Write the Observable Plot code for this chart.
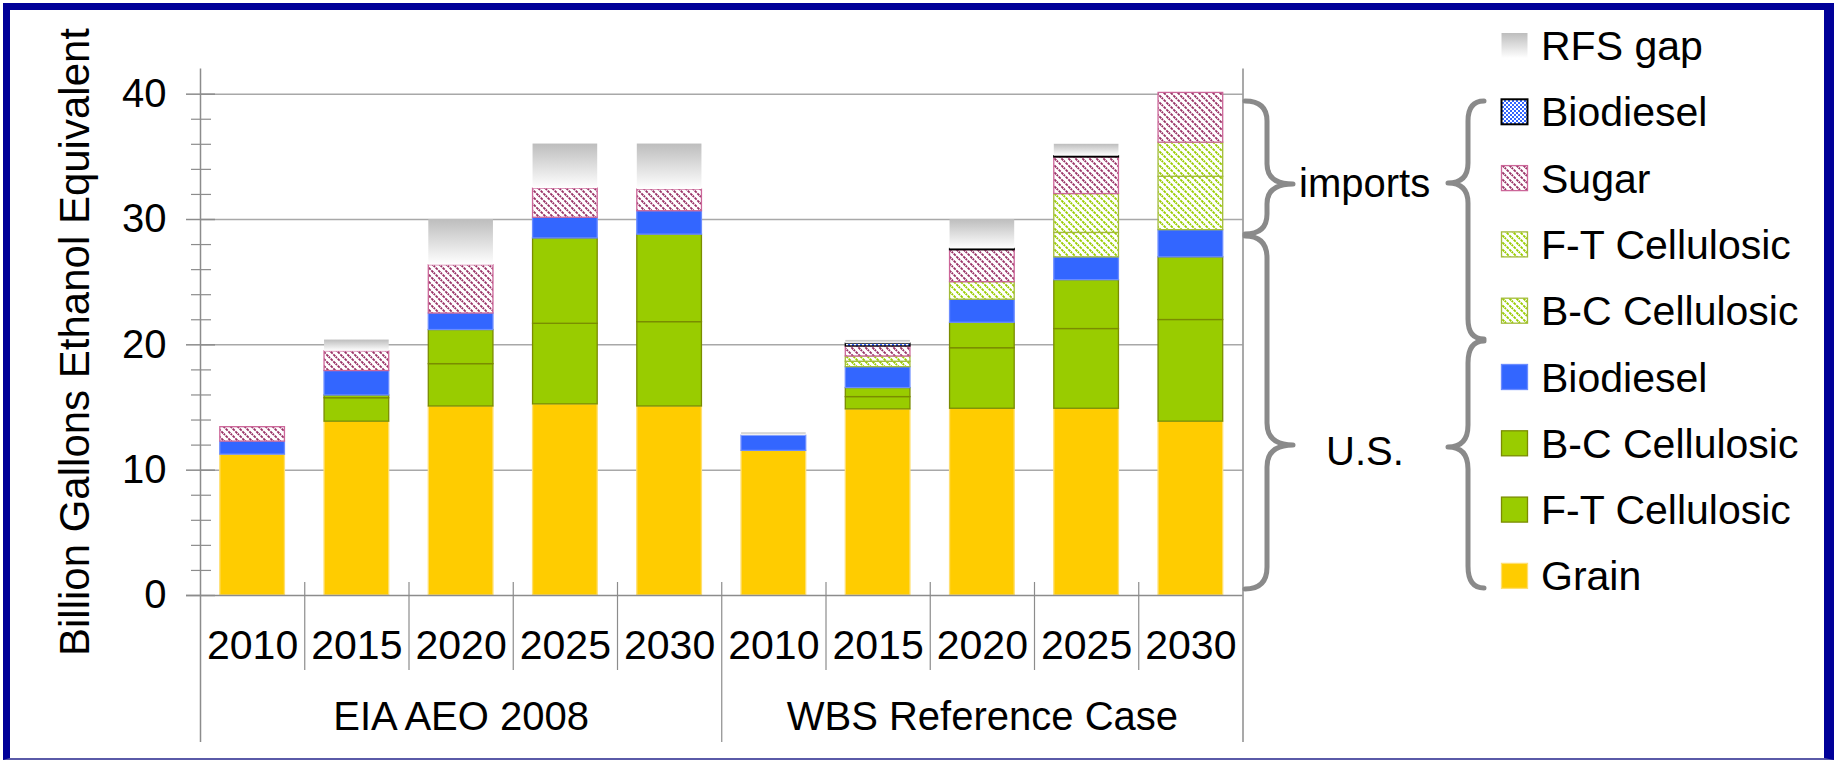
<!DOCTYPE html>
<html>
<head>
<meta charset="utf-8">
<script src="https://cdn.jsdelivr.net/npm/d3@7"></script>
<script src="https://cdn.jsdelivr.net/npm/@observablehq/plot@0.6"></script>
<style>
  html, body { margin: 0; padding: 0; background: #fff; }
  #wrap { position: relative; width: 1837px; height: 760px; overflow: hidden; font-family: "Liberation Sans", Arial, sans-serif; }
  #wrap svg { position: absolute; left: 0; top: 0; }
  #frame { position: absolute; left: 3px; top: 3px; width: 1831px; height: 757px; box-sizing: border-box;
           border-top: 7px solid #000099; border-left: 7px solid #000099; border-right: 10px solid #000099;
           border-bottom: 2px solid #5a5aa8; }
</style>
</head>
<body>
<div id="wrap">
  <svg id="defs" width="0" height="0" style="position:absolute">
    <defs>
      <linearGradient id="gapGrad" x1="0" y1="0" x2="0" y2="1">
        <stop offset="0" stop-color="#bdbdbd"/>
        <stop offset="1" stop-color="#ffffff"/>
      </linearGradient>
      <pattern id="hatchSugar" width="7" height="7" patternUnits="userSpaceOnUse">
        <rect width="7" height="7" fill="#ffffff"/>
        <path d="M-1,-1 L8,8 M-1,6 L1,8 M6,-1 L8,1" stroke="#993366" stroke-width="1.9" stroke-dasharray="2.8 1"/>
      </pattern>
      <pattern id="hatchGreen" width="7" height="7" patternUnits="userSpaceOnUse">
        <rect width="7" height="7" fill="#ffffff"/>
        <path d="M-1,-1 L8,8 M-1,6 L1,8 M6,-1 L8,1" stroke="#99cc00" stroke-width="1.9" stroke-dasharray="2.8 1"/>
      </pattern>
      <pattern id="checkBlue" width="4" height="4" patternUnits="userSpaceOnUse">
        <rect width="4" height="4" fill="#ffffff"/>
        <rect width="2" height="2" fill="#3366ff"/>
        <rect x="2" y="2" width="2" height="2" fill="#3366ff"/>
      </pattern>
    </defs>
  </svg>
  <div id="chart"></div>
  <div id="frame"></div>
</div>
<script>
// ---- data ----
const groups = ["EIA AEO 2008", "WBS Reference Case"];
const years = ["2010", "2015", "2020", "2025", "2030"];
// series, bottom to top of each stack
const seriesKeys = ["grain", "ftUS", "bcUS", "biodieselUS", "bcImports", "ftImports", "sugarImports", "biodieselImports", "rfsGap"];
const seriesLabels = ["Grain", "F-T Cellulosic", "B-C Cellulosic", "Biodiesel", "B-C Cellulosic", "F-T Cellulosic", "Sugar", "Biodiesel", "RFS gap"];
// values per bar: EIA 2010..2030, then WBS 2010..2030 (billion gallons ethanol equivalent)
const grain            = [11.24, 13.87, 15.08, 15.25, 15.08, 11.54, 14.85, 14.90, 14.90, 13.87];
const ftUS             = [0, 1.87, 3.38, 6.43, 6.73, 0, 0.98, 4.83, 6.36, 8.11];
const bcUS             = [0, 0.22, 2.72, 6.81, 6.98, 0, 0.72, 2.03, 3.90, 5.00];
const biodieselUS      = [1.04, 1.95, 1.32, 1.65, 1.87, 1.21, 1.67, 1.84, 1.82, 2.17];
const bcImports        = [0, 0, 0, 0, 0, 0, 0.43, 1.40, 1.95, 4.26];
const ftImports        = [0, 0, 0, 0, 0, 0, 0.42, 0, 3.10, 2.72];
const sugarImports     = [1.15, 1.57, 3.85, 2.33, 1.73, 0, 0.80, 2.55, 2.92, 3.97];
const biodieselImports = [0, 0, 0, 0, 0, 0, 0.22, 0.10, 0.10, 0];
const rfsGap           = [0, 0.90, 3.65, 3.55, 3.63, 0.22, 0.26, 2.35, 0.95, 0];
const yTickValues = [0, 10, 20, 30, 40];

const seriesValues = {grain, ftUS, bcUS, biodieselUS, bcImports, ftImports, sugarImports, biodieselImports, rfsGap};
const fills = {
  grain: "#ffcc00", ftUS: "#99cc00", bcUS: "#99cc00", biodieselUS: "#3366ff",
  bcImports: "url(#hatchGreen)", ftImports: "url(#hatchGreen)", sugarImports: "url(#hatchSugar)",
  biodieselImports: "url(#checkBlue)", rfsGap: "url(#gapGrad)"
};
const strokes = {
  grain: "#ffdf70", ftUS: "#7a8c00", bcUS: "#7a8c00", biodieselUS: "#6b8cff",
  bcImports: "#a3bb3a", ftImports: "#a3bb3a", sugarImports: "#cc6699",
  biodieselImports: "#000000", rfsGap: "none"
};

const cats = [];
groups.forEach((g, gi) => years.forEach((y, yi) => cats.push({i: gi * years.length + yi, group: g, year: y})));
const table = [];
cats.forEach(c => seriesKeys.forEach(k => {
  const v = seriesValues[k][c.i];
  if (v > 0) table.push({i: c.i, year: c.year, group: c.group, series: k, value: v});
}));

const minorTicks = d3.range(2, 42, 2).filter(v => v % 10 !== 0);
const yearSeps = d3.range(1, cats.length).filter(v => v % years.length !== 0);
const groupSeps = d3.range(years.length, cats.length, years.length);

const axisGrey = "#8c8c8c";
const chart = Plot.plot({
  width: 1837, height: 760,
  marginLeft: 200, marginRight: 594.5, marginTop: 68.6, marginBottom: 165,
  x: {domain: [0, cats.length], axis: null},
  y: {domain: [0, 42], axis: null},
  color: {type: "identity"},
  style: {background: "transparent", fontFamily: "'Liberation Sans', Arial, sans-serif", color: "#000"},
  marks: [
    Plot.ruleY(yTickValues.filter(v => v > 0), {stroke: "#a8a8a8", strokeWidth: 1.5}),
    Plot.rectY(table, {
      x1: "i", x2: d => d.i + 1, y: "value",
      fill: d => fills[d.series], stroke: d => strokes[d.series], strokeWidth: 1.3,
      insetLeft: 19.8, insetRight: 19.8
    }),
    // y axis ticks (cross style)
    Plot.ruleY(yTickValues, {x1: 0, x2: 0, insetLeft: -14, insetRight: -15, stroke: axisGrey, strokeWidth: 1.5}),
    Plot.ruleY(minorTicks, {x1: 0, x2: 0, insetLeft: -9, insetRight: -11, stroke: axisGrey, strokeWidth: 1.2}),
    Plot.ruleY([0], {insetLeft: -14, stroke: axisGrey, strokeWidth: 1.5}),
    Plot.ruleX([0, cats.length], {insetBottom: -147, stroke: axisGrey, strokeWidth: 1.5}),
    Plot.ruleX(groupSeps, {y1: 0, y2: 0, insetTop: -13, insetBottom: -147, stroke: axisGrey, strokeWidth: 1.2}),
    Plot.ruleX(yearSeps, {y1: 0, y2: 0, insetTop: -13, insetBottom: -75, stroke: axisGrey, strokeWidth: 1.2}),
    Plot.text(yTickValues, {x: 0, y: d => d, text: d => String(d), textAnchor: "end", dx: -34, fontSize: 40, fill: "#000"}),
    Plot.text(cats, {x: d => d.i + 0.5, y: 0, text: "year", dy: 50, fontSize: 41, fill: "#000"}),
    Plot.text(groups, {x: (d, i) => i * years.length + years.length / 2, y: 0, text: d => d, dy: 122, fontSize: 40, fill: "#000"})
  ]
});
document.getElementById("chart").appendChild(chart);

// ---- overlay: axis title, braces, labels, legend ----
const W = 1837, H = 760;
const ov = d3.select("#wrap").append("svg").attr("width", W).attr("height", H)
  .style("font-family", "'Liberation Sans', Arial, sans-serif");

ov.append("text").attr("transform", "translate(89,342) rotate(-90)")
  .attr("text-anchor", "middle").attr("font-size", 42).attr("fill", "#000")
  .text("Billion Gallons Ethanol Equivalent");

function brace(x0, xv, xt, yTop, yMid, yBot, r) {
  return `M${x0},${yTop} Q${xv},${yTop} ${xv},${yTop + r} L${xv},${yMid - r} Q${xv},${yMid} ${xt},${yMid}` +
         ` Q${xv},${yMid} ${xv},${yMid + r} L${xv},${yBot - r} Q${xv},${yBot} ${x0},${yBot}`;
}
const braceStyle = g => g.attr("fill", "none").attr("stroke", "#8a8a8a").attr("stroke-width", 5).attr("stroke-linejoin", "round").attr("stroke-linecap", "round");
ov.append("path").attr("d", brace(1245, 1267, 1293, 101, 184, 234, 20)).call(braceStyle);
ov.append("path").attr("d", brace(1245, 1267, 1293, 236, 445, 589, 22)).call(braceStyle);
ov.append("path").attr("d", brace(1484, 1468, 1448, 101, 183, 339, 20)).call(braceStyle);
ov.append("path").attr("d", brace(1484, 1468, 1448, 341, 447, 588, 22)).call(braceStyle);

ov.append("text").attr("x", 1299).attr("y", 197).attr("font-size", 40).attr("fill", "#000").text("imports");
ov.append("text").attr("x", 1326).attr("y", 465).attr("font-size", 40).attr("fill", "#000").text("U.S.");

// legend (top to bottom = reverse stacking order)
const legendKeys = seriesKeys.slice().reverse();
const legendNames = seriesLabels.slice().reverse();
legendKeys.forEach((k, j) => {
  const base = 60 + j * 66.3;
  ov.append("rect").attr("x", 1501.5).attr("y", base - 27).attr("width", 26).attr("height", 25)
    .attr("fill", fills[k]).attr("stroke", strokes[k]).attr("stroke-width", k === "biodieselImports" ? 2 : 1.3);
  ov.append("text").attr("x", 1541).attr("y", base).attr("font-size", 41).attr("fill", "#000").text(legendNames[j]);
});
</script>
</body>
</html>
